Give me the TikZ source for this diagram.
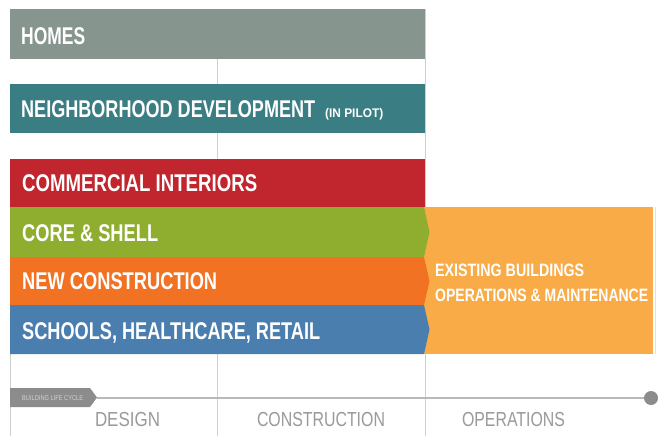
\documentclass[tikz,border=0pt]{standalone}
\usepackage{fontspec}
\setmainfont{Liberation Sans}
\usepackage{graphicx}
\definecolor{homesc}{HTML}{87958F}
\definecolor{tealc}{HTML}{3A7E84}
\definecolor{redc}{HTML}{C1252D}
\definecolor{greenc}{HTML}{8FAE30}
\definecolor{orangec}{HTML}{F07222}
\definecolor{bluec}{HTML}{4A7EAF}
\definecolor{lorangec}{HTML}{F9AB47}
\definecolor{gridc}{HTML}{CFCFCF}
\definecolor{tlc}{HTML}{8C8C8C}
\definecolor{lblc}{HTML}{9A9A9A}
\newcommand\fitw[3]{{\fontsize{#2}{#2}\selectfont\resizebox{#1pt}{\height}{#3}}}
\tikzset{
  gridline/.style={draw=gridc, line width=1pt},
  barlabel/.style={anchor=base west, inner sep=0pt, text=white, font=\bfseries},
  phase/.style={anchor=base, inner sep=0pt, text=lblc},
}
\begin{document}
\begin{tikzpicture}[x=1pt,y=-1pt]
\useasboundingbox (0,0) rectangle (658,436);
\fill[white] (0,0) rectangle (658,436);
% grid
\draw[gridline] (217,59) -- (217,436);
\draw[gridline] (425,9.5) -- (425,436);
\draw[gridline] (10.5,354) -- (10.5,436);
\draw[draw=lorangec!40, line width=1pt] (655.5,207) -- (655.5,354);
% existing buildings box
\fill[lorangec] (424,207) rectangle (653,354);
% bars
\fill[homesc] (10,9.5) rectangle (425,59);
\fill[tealc] (10,84) rectangle (425,133);
\fill[redc] (10,159) rectangle (425,207);
\fill[greenc] (10,207) -- (424,207) -- (429.5,232) -- (424,257) -- (10,257) -- cycle;
\fill[orangec] (10,257) -- (424,257) -- (429.5,281) -- (424,305) -- (10,305) -- cycle;
\fill[bluec] (10,305) -- (424,305) -- (429.5,329.5) -- (424,354) -- (10,354) -- cycle;
% labels
\node[barlabel] (homes) at (21,44.3) {\fitw{64}{24.2}{HOMES}};
\node[barlabel] (nd) at (21,117.8) {\fitw{294}{24.2}{NEIGHBORHOOD DEVELOPMENT}};
\node[barlabel] (pilot) at (325,117.3) {\fitw{58}{12.5}{(IN PILOT)}};
\node[barlabel] (ci) at (22,191.3) {\fitw{235}{24.2}{COMMERCIAL INTERIORS}};
\node[barlabel] (cs) at (22,241.2) {\fitw{136}{24.2}{CORE \& SHELL}};
\node[barlabel] (nc) at (22,289.6) {\fitw{195}{24.2}{NEW CONSTRUCTION}};
\node[barlabel] (shr) at (22,339.6) {\fitw{298}{24.2}{SCHOOLS, HEALTHCARE, RETAIL}};
\node[barlabel] (eb1) at (435,276.3) {\fitw{149}{17.9}{EXISTING BUILDINGS}};
\node[barlabel] (eb2) at (435,301.3) {\fitw{213}{17.9}{OPERATIONS \& MAINTENANCE}};
% timeline
\fill[tlc] (10,388) -- (90,388) -- (97,397.5) -- (90,407) -- (10,407) -- cycle;
\node[anchor=base west, inner sep=0pt, text=gray!35] (blc) at (22,400) {\fitw{61}{7}{BUILDING LIFE CYCLE}};
\node[circle, fill=tlc, minimum size=14pt, inner sep=0pt] (endpt) at (651,398) {};
\coordinate (tagtip) at (97,398);
\draw[draw=gray!55, line width=1.2pt] (tagtip) -- (endpt);
\node[phase] (design) at (127.5,426.5) {\fitw{65}{20.3}{DESIGN}};
\node[phase] (constr) at (321,426.5) {\fitw{128}{20.3}{CONSTRUCTION}};
\node[phase] (oper) at (513.5,426.5) {\fitw{103}{20.3}{OPERATIONS}};
\end{tikzpicture}
\end{document}
